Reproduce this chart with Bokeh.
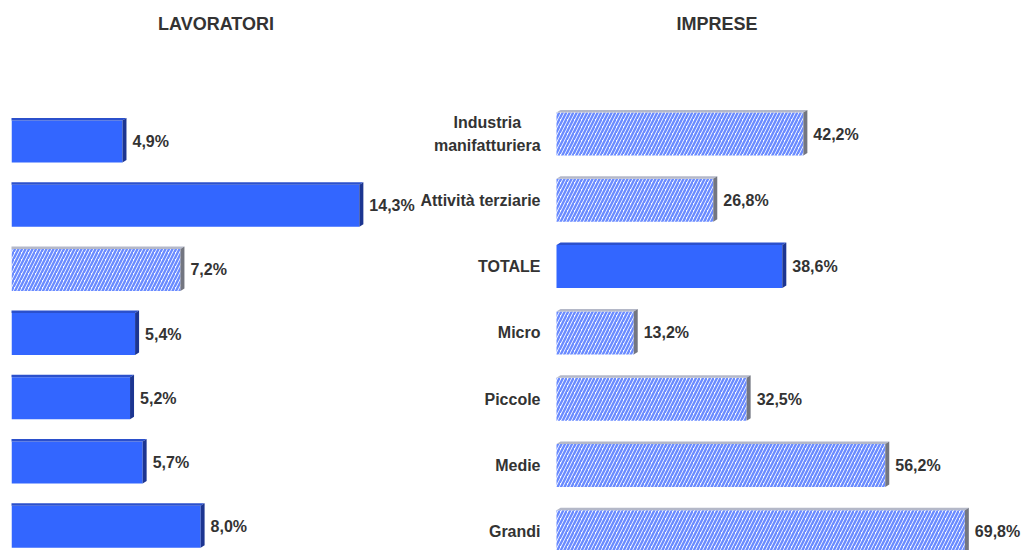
import numpy as np
from bokeh.plotting import figure
from bokeh.models import ColumnDataSource, Range1d, Label
from bokeh.embed import file_html
from bokeh.resources import INLINE
from bokeh.core.properties import value

# ---------------- data ----------------
categorie = ["Industria\nmanifatturiera", "Attività terziarie", "TOTALE",
             "Micro", "Piccole", "Medie", "Grandi"]
lavoratori = [4.9, 14.3, 7.2, 5.4, 5.2, 5.7, 8.0]
imprese = [42.2, 26.8, 38.6, 13.2, 32.5, 56.2, 69.8]
titoli = ["LAVORATORI", "IMPRESE"]
# which bars are drawn with the hatched pattern
tratteggio_lav = [c == "TOTALE" for c in categorie]
tratteggio_imp = [c != "TOTALE" for c in categorie]

# ---------------- styles / layout ----------------
FONT = "Liberation Sans"
FS = 16
TXT = "#333333"
SOLID = dict(front="#3366FF", top="#2B50CC", side="#1C3591")
HATCH = dict(front="#FFFFFF", hatch="#6A8BFF", top="#B4B8C8", side="#737680")

W, H = 1021, 550
FRAME_L = 11


def fmt(v):
    return f"{v:.1f}%".replace(".", ",")


p = figure(width=W, height=H, output_backend="svg", toolbar_location=None,
           min_border=0, min_border_left=FRAME_L, min_border_right=0,
           min_border_top=0, min_border_bottom=0)
p.xaxis.visible = False
p.yaxis.visible = False
p.xgrid.visible = False
p.ygrid.visible = False
p.outline_line_color = None
p.background_fill_color = "white"
p.border_fill_color = "white"


def panel(values, hatched, title, rname, title_l, title_r,
          px0, ppu, c0, pitch, bar_h, show_cats):
    xr = Range1d((FRAME_L - px0) / ppu, (W - px0) / ppu)
    yr = Range1d((H - c0) / pitch, (0 - c0) / pitch)
    if rname == "default":
        p.x_range = xr
        p.y_range = yr
        kw = {}
    else:
        p.extra_x_ranges = {rname: xr}
        p.extra_y_ranges = {rname: yr}
        kw = dict(x_range_name=rname, y_range_name=rname)

    idx = np.arange(len(values))
    vals = np.array(values, dtype=float)
    half = bar_h / 2.0 / pitch
    dx = 4.0 / ppu
    dy = 2.5 / pitch

    top_xs, top_ys, side_xs, side_ys, top_c, side_c = [], [], [], [], [], []
    for i, v in zip(idx, vals):
        st = HATCH if hatched[i] else SOLID
        t = i - half
        b = i + half
        top_xs.append([0, v, v + dx, dx])
        top_ys.append([t, t, t - dy, t - dy])
        side_xs.append([v, v + dx, v + dx, v])
        side_ys.append([t, t - dy, b - dy, b])
        top_c.append(st["top"])
        side_c.append(st["side"])

    h = np.array(hatched)
    solid_src = ColumnDataSource(dict(y=idx[~h], v=vals[~h]))
    hatch_src = ColumnDataSource(dict(y=idx[h], v=vals[h]))

    p.hbar(y="y", right="v", left=0, height=bar_h / pitch, source=solid_src,
           fill_color=SOLID["front"], line_color=None, **kw)
    p.hbar(y="y", right="v", left=0, height=bar_h / pitch, source=hatch_src,
           fill_color=HATCH["front"], hatch_pattern="/", hatch_color=HATCH["hatch"],
           hatch_scale=7, hatch_weight=2.4, line_color=None, **kw)
    p.patches(xs="xs", ys="ys", fill_color="c", line_color=None,
              source=ColumnDataSource(dict(xs=top_xs, ys=top_ys, c=top_c)), **kw)
    p.patches(xs="xs", ys="ys", fill_color="c", line_color=None,
              source=ColumnDataSource(dict(xs=side_xs, ys=side_ys, c=side_c)), **kw)

    lab_src = ColumnDataSource(dict(x=vals, y=idx, t=[fmt(v) for v in vals]))
    p.text(x="x", y="y", text="t", source=lab_src, x_offset=10,
           text_align="left", text_baseline="middle",
           text_font=value(FONT), text_font_style="bold",
           text_font_size=f"{FS}px", text_color=TXT, **kw)

    if show_cats:
        # multi-line labels are centred as a block whose right edge sits at the axis gap
        aligns, offs = [], []
        for c in categorie:
            lines = c.split("\n")
            if len(lines) > 1:
                wmax = max(len(s) for s in lines) * FS * 0.475
                aligns.append("center")
                offs.append(-16 - wmax / 2)
            else:
                aligns.append("right")
                offs.append(-16)
        cat_src = ColumnDataSource(dict(x=np.zeros(len(idx)), y=idx, t=categorie,
                                        a=aligns, o=offs))
        p.text(x="x", y="y", text="t", source=cat_src, x_offset="o",
               text_align="a", text_baseline="middle", text_line_height=1.3,
               text_font=value(FONT), text_font_style="bold",
               text_font_size=f"{FS}px", text_color=TXT, **kw)

    lab_kw = {} if rname == "default" else dict(x_range_name=rname, y_range_name=rname)
    p.add_layout(Label(x=((title_l + title_r) / 2 - px0) / ppu, y=(23 - c0) / pitch,
                       text=title, text_align="center", text_baseline="middle",
                       text_font=FONT, text_font_style="bold",
                       text_font_size="18px", text_color=TXT, **lab_kw))


panel(lavoratori, tratteggio_lav, titoli[0], "default", title_l=11, title_r=420,
      px0=-1.5, ppu=25.2, c0=141, pitch=64.2, bar_h=42, show_cats=False)
panel(imprese, tratteggio_imp, titoli[1], "imp", title_l=420, title_r=1013,
      px0=556, ppu=5.85, c0=133.5, pitch=66.3, bar_h=43, show_cats=True)

open("out.html", "w").write(file_html(p, INLINE))
